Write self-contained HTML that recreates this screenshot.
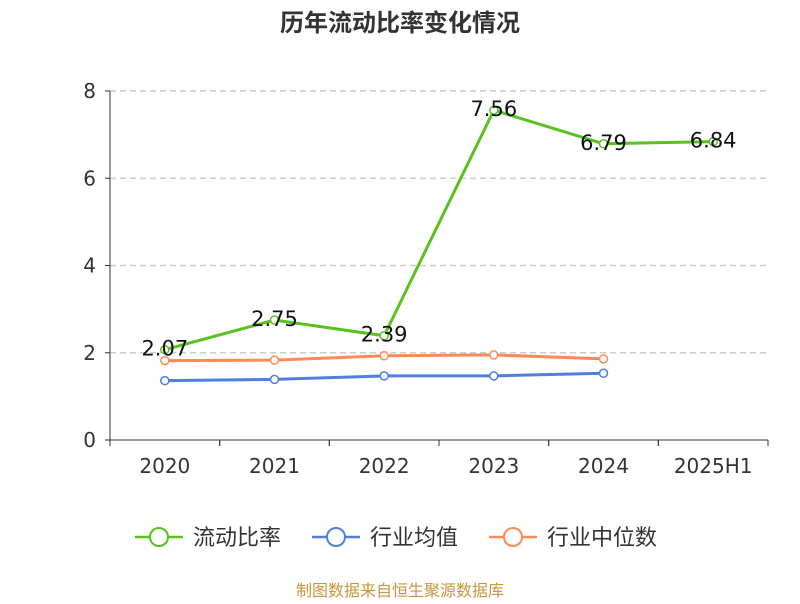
<!DOCTYPE html>
<html><head><meta charset="utf-8"><style>
body{margin:0;background:#fff;font-family:"DejaVu Sans","Noto Sans CJK SC",sans-serif}
</style></head><body>
<svg id="c" width="800" height="600" font-family="DejaVu Sans, Noto Sans CJK SC, sans-serif">
</svg>
<script>
const categories=["2020","2021","2022","2023","2024","2025H1"];
const ratio=[2.07,2.75,2.39,7.56,6.79,6.84];
const industryMean=[1.36,1.39,1.47,1.47,1.53];
const industryMedian=[1.82,1.83,1.93,1.95,1.86];
const yTicks=[0,2,4,6,8];
const ns="http://www.w3.org/2000/svg";
const svg=document.getElementById('c');
const L=110,R=768,T=91,B=440,ymax=8;
const bw=(R-L)/categories.length;
const x=i=>L+bw*(i+0.5);
const y=v=>B-(B-T)*v/ymax;
function mk(t,a,p){const e=document.createElementNS(ns,t);for(const k in a)e.setAttribute(k,a[k]);(p||svg).appendChild(e);return e;}
let t=mk('text',{x:400,y:31,'text-anchor':'middle','font-size':24,'font-weight':'bold',fill:'#333','font-family':'Noto Sans CJK SC, sans-serif'});t.textContent='历年流动比率变化情况';

yTicks.forEach(v=>{
 if(v>0){const g=mk('line',{x1:L,x2:R,y1:y(v),y2:y(v),stroke:'#ccc','stroke-dasharray':'6,4','stroke-width':1.5});}
 const tk=mk('line',{x1:L-5,x2:L,y1:y(v),y2:y(v),stroke:'#333'});
 const l=mk('text',{x:L-14,y:y(v)+7,'text-anchor':'end','font-size':20,fill:'#333'});l.textContent=v;
 
});
let ax=mk('line',{x1:L,x2:L,y1:T,y2:B,stroke:'#333'});
ax=mk('line',{x1:L,x2:R,y1:B,y2:B,stroke:'#333'});
categories.forEach((c,i)=>{
 for(const xx of [L+bw*i,L+bw*(i+1)]){const k=mk('line',{x1:xx,x2:xx,y1:B,y2:B+6,stroke:'#333'});}
 const l=mk('text',{x:x(i),y:B+33,'text-anchor':'middle','font-size':20,fill:'#333'});l.textContent=c;
 
});
function series(data,color,name,labels){
 const g=mk('g',{});
 const p=mk('polyline',{points:data.map((v,i)=>x(i)+','+y(v)).join(' '),fill:'none',stroke:color,'stroke-width':3},g);
 
 data.forEach((v,i)=>{const c=mk('circle',{cx:x(i),cy:y(v),r:4,fill:'#fff',stroke:color,'stroke-width':1.5},g);
  
  if(labels){const l=mk('text',{x:x(i),y:y(v)+6,'text-anchor':'middle','font-size':21,fill:'#111'},g);l.textContent=v.toFixed(2);
  }
 });
}
series(industryMean,'#4f7fdf','industry-mean',false);
series(industryMedian,'#ff8a55','industry-median',false);
series(ratio,'#5ac21f','current-ratio',true);
const leg=[['流动比率','#5ac21f',135],['行业均值','#4f7fdf',312],['行业中位数','#ff8a55',489]];
leg.forEach(([n,c,lx])=>{
 const g=mk('g',{});
 mk('line',{x1:lx,x2:lx+48,y1:537,y2:537,stroke:c,'stroke-width':2.5},g);
 mk('circle',{cx:lx+24,cy:537,r:9,fill:'#fff',stroke:c,'stroke-width':2},g);
 const l=mk('text',{x:lx+58,y:545,'font-size':22,fill:'#333','font-family':'Noto Sans CJK SC, sans-serif'},g);l.textContent=n;
});
t=mk('text',{x:400,y:596,'text-anchor':'middle','font-size':16,fill:'#c8963c','font-family':'Noto Sans CJK SC, sans-serif'});t.textContent='制图数据来自恒生聚源数据库';

</script>
</body></html>
